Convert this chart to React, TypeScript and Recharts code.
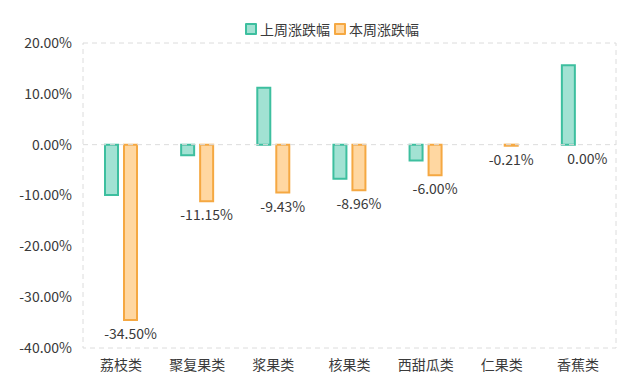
import {
  Bar,
  BarChart,
  LabelList,
  Rectangle,
  ReferenceArea,
  ReferenceLine,
  XAxis,
  YAxis,
} from "recharts";

const categories = ["荔枝类", "聚复果类", "浆果类", "核果类", "西甜瓜类", "仁果类", "香蕉类"];
const lastWeek = [-9.9, -2.1, 11.2, -6.7, -3.1, 0, 15.6];
const thisWeek = [-34.5, -11.15, -9.43, -8.96, -6.0, -0.21, 0.0];
const yTicks = [20, 10, 0, -10, -20, -30, -40];

const series = [
  { key: "last", name: "上周涨跌幅", fill: "#a2e2d3", stroke: "#3dbf9f" },
  { key: "this", name: "本周涨跌幅", fill: "#ffd7a1", stroke: "#f5a842" },
];

const data = categories.map((name, i) => ({
  name,
  last: lastWeek[i],
  this: thisWeek[i],
}));

const font = '"Noto Sans CJK SC", "Microsoft YaHei", sans-serif';

function ValueLabel(props: any) {
  const { x, y, width, height, value } = props;
  const end = Math.max(y, y + height);
  return (
    <text
      x={x + width / 2}
      y={end + 13}
      textAnchor="middle"
      dominantBaseline="central"
      fontSize={14}
      fill="#3a3a3a"
      fontFamily={font}
    >
      {`${Number(value).toFixed(2)}%`}
    </text>
  );
}

// zero values keep a hairline rect so the label still gets placed, but draw nothing
function BarShape(props: any) {
  if (Math.abs(props.height) < 0.5) return <g />;
  return <Rectangle {...props} />;
}

export default function App() {
  return (
    <div style={{ position: "absolute", left: 0, top: 0, width: 638, height: 388, fontFamily: font, background: "#fff" }}>
      <div
        style={{
          position: "absolute",
          top: 21,
          left: 245,
          display: "flex",
          alignItems: "center",
          fontSize: 14,
          color: "#3a3a3a",
          lineHeight: "16px",
        }}
      >
        {series.map((s) => (
          <span key={s.key} style={{ display: "flex", alignItems: "center", marginRight: 4 }}>
            <span
              style={{
                width: 8,
                height: 8,
                border: `2px solid ${s.stroke}`,
                background: s.fill,
                borderRadius: 1,
                marginRight: 3,
              }}
            />
            {s.name}
          </span>
        ))}
      </div>
      <BarChart
        width={638}
        height={388}
        data={data}
        margin={{ top: 43, right: 22, bottom: 10, left: 0 }}
        barSize={13}
        barGap={6}
      >
        <ReferenceArea y1={-40} y2={20} fill="none" stroke="#dcdcdc" strokeDasharray="5 4" />
        <ReferenceLine y={0} stroke="#dcdcdc" strokeDasharray="5 4" />
        <XAxis
          dataKey="name"
          axisLine={false}
          tickLine={false}
          tickMargin={6}
          tick={{ fontSize: 14, fill: "#3a3a3a", fontFamily: font }}
        />
        <YAxis
          width={83}
          domain={[-40, 20]}
          ticks={yTicks}
          axisLine={false}
          tickLine={false}
          tickMargin={5}
          tickFormatter={(v: number) => `${v.toFixed(2)}%`}
          tick={{ fontSize: 14, fill: "#3a3a3a", fontFamily: font }}
        />
        <Bar dataKey="last" name="上周涨跌幅" fill="#a2e2d3" stroke="#3dbf9f" strokeWidth={2} isAnimationActive={false} />
        <Bar
          dataKey="this"
          name="本周涨跌幅"
          fill="#ffd7a1"
          stroke="#f5a842"
          strokeWidth={2}
          minPointSize={(v: number) => (v === 0 ? 0.01 : 0)}
          shape={BarShape}
          isAnimationActive={false}
        >
          <LabelList dataKey="this" content={ValueLabel} />
        </Bar>
      </BarChart>
    </div>
  );
}
